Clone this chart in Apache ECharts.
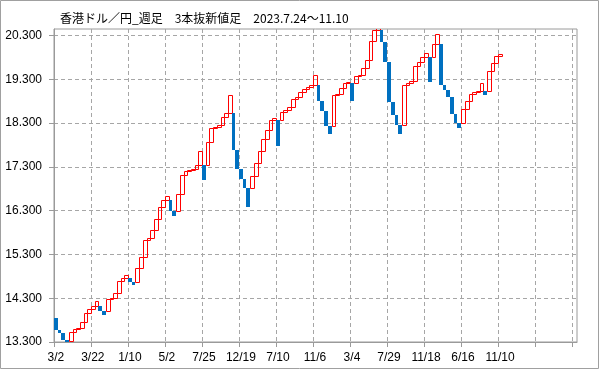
<!DOCTYPE html>
<html>
<head>
<meta charset="utf-8">
<script src="https://cdn.jsdelivr.net/npm/echarts@6/dist/echarts.min.js"></script>
<style>
html,body{margin:0;padding:0;background:#fff;}
#c{width:599px;height:369px;}
</style>
</head>
<body>
<div id="c"></div>
<script>
// Brick opens / closes (3本抜新値足), one per brick
const opens = [
13.85,13.58,13.506,13.35,13.33,13.53,13.597,13.627,13.764,13.963,
14.054,14.13,14.13,14.0,14.0,14.283,14.30,14.42,14.694,14.763,
14.763,14.662,14.662,14.991,15.242,15.638,15.677,15.866,16.111,16.376,
16.545,16.545,16.285,16.285,16.689,17.116,17.2,17.237,17.26,17.336,
17.336,17.336,17.87,18.19,18.213,18.259,18.442,18.533,18.533,17.678,
17.244,17.025,16.819,16.819,17.1,17.39,17.672,17.946,18.151,18.38,
18.38,18.38,18.563,18.593,18.67,18.853,18.899,19.004,19.088,19.127,
19.164,19.164,18.798,18.57,18.227,18.227,18.935,18.958,19.104,19.219,
19.219,19.219,19.385,19.408,19.561,19.744,20.185,20.43,20.43,20.146,
19.689,18.775,18.494,18.266,18.266,19.18,19.219,19.255,19.614,19.689,
19.813,19.813,19.813,20.11,20.11,19.18,19.05,18.89,18.51,18.305,
18.305,18.624,18.798,18.974,19.004,19.027,19.027,19.027,19.484,19.676,
19.827
];
const closes = [
13.58,13.506,13.35,13.31,13.53,13.597,13.627,13.764,13.963,14.054,
14.13,14.228,14.0,13.917,14.283,14.30,14.42,14.694,14.763,14.822,
14.662,14.593,14.991,15.242,15.638,15.677,15.866,16.111,16.376,16.545,
16.627,16.285,16.186,16.689,17.116,17.2,17.237,17.26,17.336,17.672,
16.993,17.87,18.19,18.213,18.259,18.442,18.533,18.944,17.678,17.244,
17.025,16.819,16.376,17.1,17.39,17.672,17.946,18.151,18.38,18.41,
17.77,18.563,18.593,18.67,18.853,18.899,19.004,19.088,19.127,19.164,
19.408,18.798,18.57,18.227,18.053,18.935,18.958,19.104,19.219,19.248,
18.798,19.385,19.408,19.561,19.744,20.185,20.43,20.75,20.146,19.689,
18.775,18.494,18.266,18.06,19.18,19.219,19.255,19.614,19.689,19.813,
19.904,19.232,20.11,20.338,19.18,19.05,18.89,18.51,18.305,18.181,
18.624,18.798,18.974,19.004,19.027,19.219,18.944,19.484,19.676,19.827,
19.881
];
// x tick labels, one every 10 bricks
const tickLabels = ['3/2','3/22','1/10','5/2','7/25','12/19','7/10','11/6','3/4','7/29','11/18','6/16','11/10'];
// y tick values
const yTicks = [13.3,14.3,15.3,16.3,17.3,18.3,19.3,20.3];

const bricks = opens.map((o, i) => [i, o, closes[i]]);
const xTickVals = [];
for (let k = 0; k <= 14; k++) xTickVals.push(k * 10);
const xLabelVals = tickLabels.map((t, k) => k * 10 + 0.5);

const chart = echarts.init(document.getElementById('c'), null, {renderer: 'canvas'});
const gridCol = '#a6a6a6';
const axisCol = '#9a9a9a';
chart.setOption({
  animation: false,
  backgroundColor: '#fff',
  textStyle: {fontFamily: '"Liberation Sans", Arial, sans-serif'},
  graphic: [
    {type: 'rect', shape: {x: 0.5, y: 0.5, width: 598, height: 368}, style: {fill: 'none', stroke: '#a0a0a0', lineWidth: 1}, silent: true},
    {type: 'text', x: 60, y: 18, style: {text: '香港ドル／円_週足　3本抜新値足　2023.7.24～11.10', fill: '#000', font: '12px "Noto Sans CJK JP"', verticalAlign: 'middle'}, silent: true}
  ],
  grid: {left: 54, right: 22, top: 29, bottom: 27, show: true, borderColor: axisCol, borderWidth: 1, backgroundColor: 'transparent'},
  xAxis: {
    type: 'value', min: 0, max: 141.3,
    axisLine: {show: true, lineStyle: {color: axisCol}},
    axisTick: {show: true, length: 5, customValues: xTickVals, lineStyle: {color: axisCol}},
    axisLabel: {
      customValues: xLabelVals, margin: 10, fontSize: 12, color: '#000',
      formatter: v => tickLabels[Math.floor(v / 10)] || ''
    },
    splitLine: {show: true, lineStyle: {color: gridCol, type: [4, 3]}}
  },
  yAxis: {
    type: 'value', min: 13.3, max: 20.448, interval: 1,
    axisLine: {show: true, lineStyle: {color: axisCol}},
    axisTick: {show: true, length: 5, customValues: yTicks, lineStyle: {color: axisCol}},
    axisLabel: {customValues: yTicks, margin: 12, fontSize: 12, color: '#000', formatter: v => v.toFixed(3)},
    splitLine: {show: true, lineStyle: {color: gridCol, type: [4, 3]}}
  },
  series: [{
    type: 'custom',
    clip: true,
    data: bricks,
    encode: {x: 0, y: [1, 2]},
    renderItem: function (params, api) {
      const i = api.value(0), o = api.value(1), c = api.value(2);
      const p0 = api.coord([i, Math.max(o, c)]);
      const p1 = api.coord([i + 1, Math.min(o, c)]);
      if (c > o) {
        const x0 = Math.round(p0[0]) + 0.5, x1 = Math.round(p1[0]) + 0.5;
        const y0 = Math.round(p0[1]) + 0.5, y1 = Math.round(p1[1]) + 0.5;
        return {type: 'rect', shape: {x: x0, y: y0, width: x1 - x0, height: Math.max(y1 - y0, 1)},
          style: {fill: 'none', stroke: '#ff0000', lineWidth: 1}};
      }
      const x0 = Math.round(p0[0]), x1 = Math.round(p1[0]);
      const y0 = Math.round(p0[1]), y1 = Math.round(p1[1]);
      return {type: 'rect', shape: {x: x0, y: y0, width: x1 - x0, height: Math.max(y1 - y0, 1)},
        style: {fill: '#0070c0', stroke: null}};
    }
  }]
});
</script>
</body>
</html>
